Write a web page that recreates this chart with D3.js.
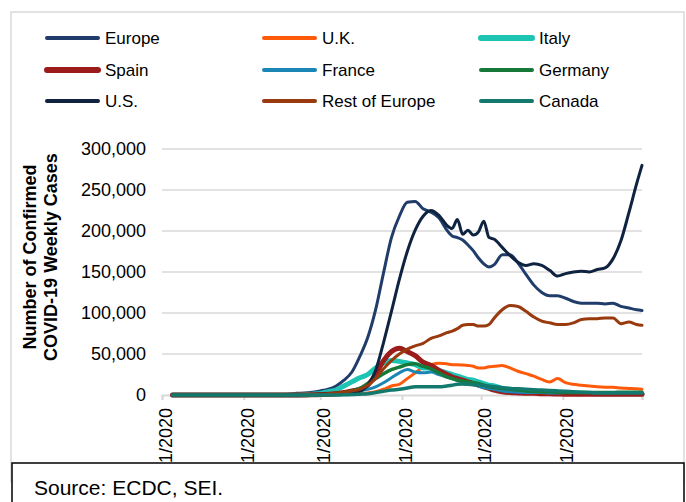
<!DOCTYPE html>
<html>
<head>
<meta charset="utf-8">
<script src="https://cdnjs.cloudflare.com/ajax/libs/d3/7.8.5/d3.min.js"></script>
<style>
	body { margin: 0; background: #fff; }
	svg { display: block; font-family: Arial, "Liberation Sans", sans-serif; }
</style>
</head>
<body>
<div id="chart"></div>
<script>
// dates of the weekly (rolling 7 day) counts
var dates = ["2020-01-05", "2020-01-25", "2020-02-10", "2020-02-18", "2020-02-21", "2020-02-24", "2020-02-27",
	"2020-03-01", "2020-03-04", "2020-03-07", "2020-03-10", "2020-03-13", "2020-03-16", "2020-03-19", "2020-03-22",
	"2020-03-25", "2020-03-28", "2020-03-31", "2020-04-03", "2020-04-06", "2020-04-09", "2020-04-12", "2020-04-15",
	"2020-04-18", "2020-04-20", "2020-04-22", "2020-04-24", "2020-04-26", "2020-04-28", "2020-04-30", "2020-05-02",
	"2020-05-04", "2020-05-06", "2020-05-09", "2020-05-12", "2020-05-15", "2020-05-18", "2020-05-21", "2020-05-24",
	"2020-05-27", "2020-05-30", "2020-06-02", "2020-06-05", "2020-06-08", "2020-06-11", "2020-06-14", "2020-06-17",
	"2020-06-20", "2020-06-23", "2020-06-26", "2020-06-29", "2020-07-01"];

// weekly cases, thousands
var europe = [0.2, 0.3, 0.5, 1, 2, 2.5, 3.5, 5, 7, 11, 18, 28, 47, 70, 104, 149, 192, 218, 235, 236, 227, 223, 216, 201, 194, 192, 189, 183, 176, 167, 160, 156, 159, 171, 171, 161, 147, 134, 125, 121, 121, 118, 114, 112, 112, 112, 111, 112, 108, 106, 104, 103];
var uk = [0, 0, 0, 0, 0, 0, 0, 0.1, 0.1, 0.2, 0.5, 1, 1.5, 2.5, 4, 7, 11, 13, 20, 27, 34, 37, 38.6, 38, 37, 37, 36.6, 36, 35, 33, 33, 34.5, 35, 36, 33, 29, 26, 23, 19, 16, 20, 15, 13, 12, 11, 10, 9.5, 9.4, 8.5, 8, 7.5, 7];
var italy = [0, 0, 0, 0, 0.1, 0.3, 1, 2, 4, 6, 11, 16, 21, 25, 33, 39, 42, 41, 39, 37, 33, 33, 30, 27, 25, 23, 21, 19, 18, 16, 14, 12, 11, 8, 7, 6, 5, 4, 3.5, 3, 2.5, 2.2, 2, 2, 1.8, 1.7, 1.6, 1.5, 1.5, 1.5, 1.5, 1.5];
var spain = [0, 0, 0, 0, 0.1, 0.1, 0.2, 0.5, 0.8, 1.5, 3, 5, 7, 12, 25, 42, 53, 57, 53, 48, 40, 36, 30, 25, 22, 20, 18, 16, 14, 12, 10, 8, 6, 4, 3, 2.5, 2, 2, 1.5, 1.5, 1.2, 1, 1, 1, 1, 1, 1, 1, 1, 1, 1, 1];
var france = [0, 0, 0, 0, 0, 0, 0.1, 0.2, 0.5, 1, 2, 3, 5, 7, 10, 15, 21, 27, 31, 28, 27, 28, 25, 22, 20, 18, 16, 15, 14, 11, 9, 8, 7, 5, 4, 3.5, 3, 3, 3, 2.5, 2.5, 3, 3, 3, 3, 3, 3, 3, 3, 3, 3, 3];
var germany = [0, 0, 0, 0, 0, 0.1, 0.2, 0.5, 1, 2, 3, 5, 8, 14, 20, 26, 31, 34, 37, 38, 35, 32, 27, 22, 20, 18, 17, 16, 15, 14, 12, 10, 9, 8, 7, 6, 5, 4.5, 4, 4, 3.5, 3, 3, 3, 3, 3, 3, 3, 3.5, 3.5, 3.5, 3.5];
var us = [0.1, 0.1, 0.1, 0.2, 0.3, 0.5, 0.6, 1, 1.5, 2, 2.5, 3, 4.5, 12, 30, 64, 102, 141, 175, 201, 218, 225, 219, 207, 203, 214, 196, 201, 195, 199, 212, 192, 190, 180, 170, 162, 158, 160, 158, 152, 145, 148, 150, 151, 150, 153, 155, 166, 188, 222, 258, 280];
var restOfEurope = [0.1, 0.1, 0.1, 0.2, 0.3, 0.5, 0.7, 1, 1.5, 2.5, 3.5, 5, 7, 12, 20, 32, 42, 50, 56, 60, 63, 69, 72, 76, 78, 81, 85, 86, 86, 84, 84, 86, 94, 104, 109, 108, 102, 95, 90, 88, 86, 86, 88, 92, 93, 93, 94, 94, 87, 89, 86, 85];
var canada = [0, 0, 0, 0, 0, 0, 0, 0, 0, 0.1, 0.2, 0.5, 1, 1.5, 3, 4.5, 6, 7, 8.5, 10, 10, 10, 10, 11, 12, 13, 13.5, 13, 12.5, 12, 11.5, 11, 10, 9, 8, 7.5, 7, 6.5, 6, 5.5, 5, 4.5, 4, 3.5, 3, 2.5, 2.5, 2.5, 2.5, 2.5, 2.5, 2.5];

var seriesNames = ["Europe", "U.K.", "Italy", "Spain", "France", "Germany", "U.S.", "Rest of Europe", "Canada"];
var seriesValues = [europe, uk, italy, spain, france, germany, us, restOfEurope, canada];
var seriesColors = ["#1f3c6a", "#ff5a0a", "#1dc4b3", "#9c1b1b", "#1a86b6", "#16793a", "#0f2341", "#983a0e", "#13796f"];
var seriesWidths = [3, 3, 5, 5, 3, 3.5, 3, 3, 3.5];

var yTicks = [0, 50000, 100000, 150000, 200000, 250000, 300000];
var xTicks = ["2020-01-01", "2020-02-01", "2020-03-01", "2020-04-01", "2020-05-01", "2020-06-01"];
var xEnd = "2020-07-01";

var parse = d3.timeParse("%Y-%m-%d");
var fmtX = d3.timeFormat("%-m/%-d/%Y");

var width = 686, height = 502;

var svg = d3.select("#chart")
	.append("svg")
	.attr("width", width)
	.attr("height", height);

// outer frame
svg.append("rect")
	.attr("x", 11)
	.attr("y", 12)
	.attr("width", 673)
	.attr("height", 470)
	.attr("fill", "none")
	.attr("stroke", "#d9d9d9")
	.attr("stroke-width", 1.5);

var x = d3.scaleTime()
	.domain([parse(xTicks[0]), parse(xEnd)])
	.range([162, 642]);

var y = d3.scaleLinear()
	.domain([0, 300000])
	.range([395, 149]);

// gridlines
svg.append("g")
	.selectAll("line")
	.data(yTicks.slice(1))
	.enter()
	.append("line")
	.attr("x1", x.range()[0])
	.attr("x2", x.range()[1])
	.attr("y1", function (d) { return y(d); })
	.attr("y2", function (d) { return y(d); })
	.attr("stroke", "#d9d9d9")
	.attr("stroke-width", 1.5);

// y axis labels
var yAxis = svg.append("g")
	.attr("transform", "translate(162,0)")
	.call(d3.axisLeft(y).tickValues(yTicks).tickSize(0).tickPadding(16).tickFormat(d3.format(",")));
yAxis.select(".domain").remove();
yAxis.selectAll("text")
	.attr("font-size", 18)
	.attr("font-family", "Arial, 'Liberation Sans', sans-serif")
	.attr("fill", "#000");

// x axis
var xAxis = svg.append("g")
	.attr("transform", "translate(0,395)")
	.call(d3.axisBottom(x)
		.tickValues(xTicks.map(parse).concat([parse(xEnd)]))
		.tickSize(5)
		.tickFormat(function (d) { return d.getMonth() === 6 ? "" : fmtX(d); }));
xAxis.select(".domain")
	.attr("stroke", "#d9d9d9")
	.attr("stroke-width", 2);
xAxis.selectAll(".tick line")
	.attr("stroke", "#d9d9d9")
	.attr("stroke-width", 2);
xAxis.selectAll(".tick text")
	.attr("font-size", 18)
	.attr("font-family", "Arial, 'Liberation Sans', sans-serif")
	.attr("fill", "#000")
	.attr("text-anchor", "end")
	.attr("transform", "translate(3,13) rotate(-90)")
	.attr("x", 0)
	.attr("y", 0)
	.attr("dy", "0.35em");

// y axis title
var title = svg.append("text")
	.attr("transform", "translate(40,257) rotate(-90)")
	.attr("text-anchor", "middle")
	.attr("font-size", 18)
	.attr("font-weight", "bold");
title.append("tspan").attr("x", 0).attr("dy", "-0.25em").text("Number of Confirmed");
title.append("tspan").attr("x", 0).attr("dy", "1.2em").text("COVID-19 Weekly Cases");

// series
var line = d3.line()
	.curve(d3.curveMonotoneX)
	.x(function (d, i) { return x(parse(dates[i])); })
	.y(function (d) { return y(d * 1000); });

svg.append("g")
	.selectAll("path")
	.data(seriesValues)
	.enter()
	.append("path")
	.attr("d", line)
	.attr("fill", "none")
	.attr("stroke", function (d, i) { return seriesColors[i]; })
	.attr("stroke-width", function (d, i) { return seriesWidths[i]; })
	.attr("stroke-linejoin", "round")
	.attr("stroke-linecap", "round");

// legend
var legendCols = [47, 264, 481];
var legendRows = [38, 70, 101];

svg.append("g")
	.attr("class", "legend")
	.selectAll("g")
	.data(seriesNames)
	.enter()
	.append("g")
	.each(function (d, i) {
		var g = d3.select(this);
		var cx = legendCols[i % 3], cy = legendRows[Math.floor(i / 3)];

		g.append("line")
			.attr("x1", cx)
			.attr("x2", cx + 51)
			.attr("y1", cy)
			.attr("y2", cy)
			.attr("stroke", seriesColors[i])
			.attr("stroke-width", seriesWidths[i] > 4 ? 6 : 4)
			.attr("stroke-linecap", "round");

		g.append("text")
			.attr("x", cx + 58)
			.attr("y", cy + 6)
			.attr("font-size", 17)
			.text(d);
	});

// source box
svg.append("rect")
	.attr("x", 12)
	.attr("y", 463)
	.attr("width", 672)
	.attr("height", 60)
	.attr("fill", "#fff")
	.attr("stroke", "#000")
	.attr("stroke-width", 1.5);

svg.append("text")
	.attr("x", 34)
	.attr("y", 495)
	.attr("font-size", 21)
	.text("Source: ECDC, SEI.");
</script>
</body>
</html>
